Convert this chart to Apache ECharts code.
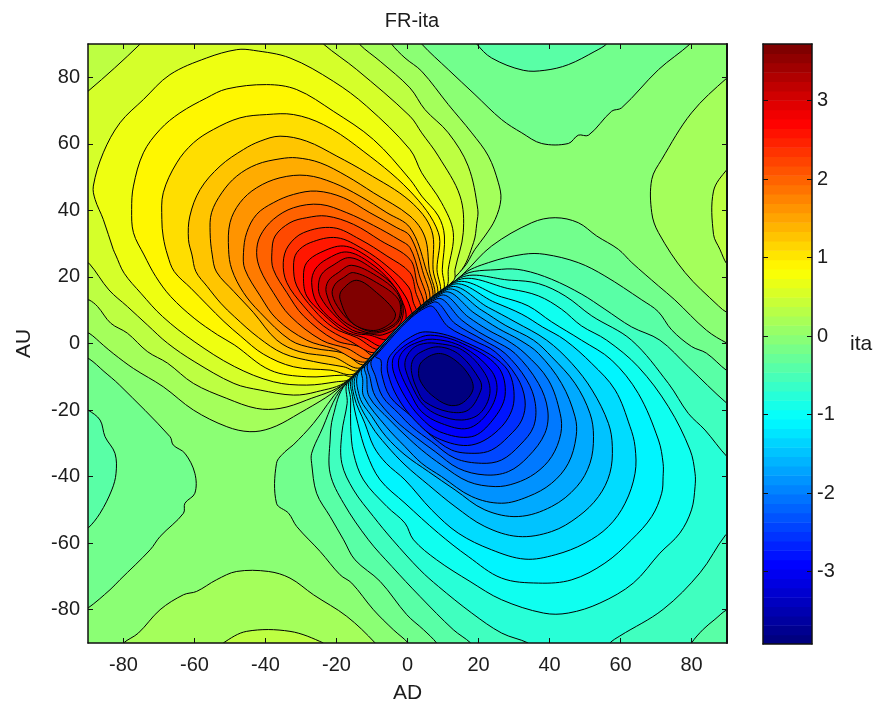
<!DOCTYPE html>
<html><head><meta charset="utf-8">
<style>html,body{margin:0;padding:0;background:#fff}#c{width:877px;height:707px}</style>
<script src="https://cdn.jsdelivr.net/npm/echarts@6/dist/echarts.min.js"></script>
</head><body><div id="c"></div>
<script>
const xTicks=[-80,-60,-40,-20,0,20,40,60,80];
const yTicks=[-80,-60,-40,-20,0,20,40,60,80];
const barTicks=[-3,-2,-1,0,1,2,3];
const valueMin=-3.92, valueMax=3.72;
const backgroundValue=-0.014;
const backgroundShape=[[-91,-91],[91,-91],[91,91],[-91,91]];
const posFill=[.172,.358,.544,.73,.916,1.102,1.288,1.474,1.66,1.846,2.032,2.218,2.404,2.59,2.776,2.962,3.148,3.334,3.52,3.72];
const negFill=[-.2,-.386,-.572,-.758,-.944,-1.13,-1.316,-1.502,-1.688,-1.874,-2.06,-2.246,-2.432,-2.618,-2.804,-2.99,-3.176,-3.362,-3.548,-3.92];

const P0=[[-91,3.1],[-91,91],[-4.5,91],[-4.5,90],[-.7,85.8],[4,81.8],[11.5,71.8],[18.1,63.3],[22.8,56.3],[25.6,48.3],[26.3,43.3],[24.7,37.3],[21.8,32.3],[19,28.3],[15.6,22.5],[-18.2,-12.4],[-32.1,-22],[-38.7,-25.5],[-44.4,-26.5],[-50.9,-25],[-60.3,-20],[-68.8,-13],[-77.2,-7.5],[-82.9,-3],[-85.7,-.5],[-89.7,3.1]];
const P1=[[-91,13.1],[-91,91],[-13.4,91],[-13.4,89.8],[-7.7,84.8],[.7,76.8],[4.9,70.3],[11.5,63.3],[17.1,53.3],[19.8,40.3],[19.5,36],[18.6,30.3],[14.6,21.3],[-17.6,-11.8],[-28.4,-17],[-35.9,-19.5],[-42.5,-19.5],[-50.9,-16.5],[-60.3,-12],[-67.6,-5.9],[-73.3,-2.4],[-78.9,3.1],[-83.6,6.1],[-87.3,11.1],[-89.7,13.1]];
const P2=[[-91,24.3],[-91,75.8],[-90,75.8],[-75.3,90],[-75.3,91],[-23.7,91],[-23.7,90],[-14.3,82.3],[.7,68.3],[4,63.3],[8.7,56.3],[14.8,44.3],[15.7,33.3],[13.4,22.3],[13,19],[-17,-11.2],[-25.6,-14.5],[-32.1,-15.5],[-41.5,-14],[-48.9,-12],[-60.1,-5.4],[-67.6,.1],[-73.3,5.6],[-78.9,11.1],[-84.1,16.1],[-89.7,24.1]];
const P3=[[-88.5,47.3],[-85.7,57.3],[-81,66.3],[-74.4,73.3],[-66.9,80.8],[-56.6,85.8],[-48.1,88.3],[-43.4,88.1],[-33.1,85.8],[-20.9,78.8],[-11.5,71.3],[.7,58.3],[4,51.3],[9.6,42.3],[12.9,33.3],[11.5,22.3],[10.8,16.8],[-16.3,-10.6],[-20,-11.5],[-28.4,-12.5],[-37.8,-11.5],[-48.8,-6.9],[-60.1,.6],[-69,8.1],[-75.1,15.1],[-79.8,21.1],[-82.2,26.6],[-82.9,28.3],[-85.7,37.3],[-88,43.3]];
const P4=[[-77.7,40.3],[-77.2,47.3],[-74.4,57.3],[-69.7,64.3],[-64.1,69.3],[-56.6,73.8],[-50.9,76.5],[-39.7,77.8],[-31.2,76.3],[-20.9,69.8],[-9.6,61.3],[.7,49.3],[4,44.3],[8.7,38.3],[10.4,32.3],[9.8,22.3],[9.8,15.5],[-15.5,-9.8],[-18,-9.5],[-28.4,-10],[-38.7,-8],[-48.8,-.4],[-53.5,2.6],[-60.1,7.6],[-66.7,14.1],[-70.9,20.1],[-74.2,26.6],[-77.2,33.3]];
const P5=[[-69.2,37.3],[-68.8,45.3],[-65,54.3],[-60.3,60.3],[-54.7,64.3],[-47.2,67.8],[-39.7,68.8],[-32.1,68.8],[-23.7,65.8],[-14.3,59.3],[.7,45.8],[8.7,33.3],[8.3,22.3],[8.8,14.5],[-14.6,-8.9],[-21.8,-8],[-32.1,-7],[-40.6,-3.2],[-47,2.2],[-51.7,6.6],[-56.4,11.6],[-61,16.6],[-65.7,21.6],[-67.6,26.6],[-68.8,32]];
const P6=[[-61.7,31.3],[-61.3,38.3],[-58.4,46.3],[-52.8,53.3],[-46.2,58.3],[-41.5,60.8],[-35.9,62.3],[-28.4,60.8],[-19.9,56.3],[-11.5,51.3],[.7,42.8],[6.8,34],[7.2,22.3],[8,13.7],[-13.7,-8],[-18,-7],[-26.5,-5.4],[-35,-3],[-42,1.8],[-48.8,8.1],[-52.6,12.1],[-56.4,17.1],[-59.6,21.6],[-60.7,26.6]];
const P7=[[-55.6,33.3],[-55.2,39.3],[-52.3,45.3],[-48.1,50.3],[-42.5,53.8],[-35.9,55.5],[-31.2,55.8],[-24.6,54.3],[-17.1,50.3],[-9.6,45.3],[.7,38.3],[4.9,32],[6.1,22.3],[7.2,13],[-12.8,-7.1],[-20.9,-4.1],[-30.3,-2.5],[-36.8,1],[-43.4,9.3],[-48.9,15.6],[-53.8,21.5],[-55,26.6]];
const P8=[[-50.4,28.3],[-50,36.3],[-47.2,42.3],[-42.5,46.8],[-35.9,49.8],[-28.4,50.5],[-20.9,48.3],[-13.4,44.3],[-5.8,39.3],[.7,34.8],[5,23],[6.6,12.3],[-11.9,-6.2],[-18,-2.9],[-26.5,-1.4],[-33,1],[-41.5,9.3],[-46.2,15.3],[-49.5,22.3]];
const P9=[[-46.2,27.3],[-45.3,33.3],[-42.5,38.8],[-37.8,42.3],[-32.1,44.8],[-25.6,45.8],[-18,43.8],[-10.6,39.3],[-3,34.8],[.7,32.3],[4.2,22],[5.8,11.6],[-11,-5.3],[-20.9,-1.5],[-28.4,1],[-36.8,7.3],[-41.5,14.3],[-45.8,22.3]];
const P10=[[-42.5,27.3],[-41.5,32.3],[-37.8,37.3],[-32.1,40.8],[-24.6,41.8],[-17.1,39.3],[-9.6,35.5],[-2.1,31],[.7,28.8],[3.2,21],[5,10.9],[-10.1,-4.4],[-17.1,-1.45],[-24.2,1],[-33.1,8.3],[-37.8,15.3],[-41.5,22.3]];
const P11=[[-38.2,27.3],[-37.3,32.3],[-33.1,36.3],[-28.4,37.8],[-22.8,38.3],[-15.2,35.8],[-7.7,31],[.7,25.3],[2.6,18.5],[4.3,10.2],[-9.2,-3.5],[-13.4,-1],[-20.4,1],[-29.3,8.3],[-34,15.3],[-37.8,22.3]];
const P12=[[-35,24.3],[-33.6,29.3],[-29.3,33.3],[-20.9,34.8],[-13.4,31.3],[-5.8,26.3],[.7,21.3],[2.3,15.5],[3.5,9.5],[-8.3,-2.6],[-16.7,1],[-23.7,5.3],[-29.3,11.3],[-34,18.3]];
const P13=[[-32.1,23.3],[-31.2,27.3],[-27.4,30.3],[-19.9,31.8],[-12.4,28.3],[-5.8,23.3],[.3,17],[1.6,12.5],[2.5,8.5],[-7.4,-1.7],[-14.3,1.8],[-20.9,4.8],[-26.5,10.3],[-31.2,17.3]];
const P14=[[-29.3,20.3],[-28.4,24.3],[-24.6,27.3],[-18,29.3],[-11.5,26.3],[-4.9,20.3],[-.5,14],[1,10],[1.5,7.5],[-6.5,-.8],[-12.4,1.8],[-18,3.8],[-23.7,8.8],[-28.4,14.3]];
const P15=[[-27,18.3],[-26,22.3],[-22.8,25.3],[-17.1,27.5],[-10.6,24.3],[-4.5,18.3],[-1.2,12],[-.4,7.5],[-2,4.6],[-5.6,1.2],[-10.6,2.5],[-15.2,3.2],[-20.9,6.8],[-25.6,12.3]];
const P16=[[-25.1,17.3],[-24.2,20.8],[-21.3,23.3],[-16.2,25.8],[-9.6,22.3],[-3.5,16.8],[-1.2,10.5],[-2.6,5.2],[-7,2.6],[-10,2.8],[-15.5,4],[-21,9],[-24.5,14]];
const P17=[[-22.9,15.3],[-22.3,18.8],[-19.5,21.3],[-15.7,23.5],[-8.7,20.3],[-3,15.3],[-1.6,9.5],[-3.5,5.4],[-9.5,3.1],[-15.5,5],[-20,8.8]];
const P18=[[-21.2,14.8],[-20.4,17.8],[-18,19.8],[-15.2,21.3],[-8.7,18.3],[-2.6,13.3],[-2.2,8.3],[-4,5.6],[-9.5,3.5],[-15,5.7],[-19,10]];
const P19=[[-19,13.3],[-18.5,16],[-14.3,19],[-8.7,15.3],[-3.5,9.3],[-4.5,6.3],[-9.6,3.9],[-15.7,6.3]];

const N1=[[16,21.2],[23.7,29.3],[35,36.3],[41.6,37.8],[48.1,36.3],[53.3,32.3],[59.4,28.3],[63.2,24.3],[70.7,17.3],[75.3,13.1],[84.2,4],[90,.1],[91,.1],[91,-91],[.2,-91],[.2,-90],[-4,-86],[-9.6,-80],[-15.7,-72],[-19,-69.5],[-24.6,-62.5],[-31.2,-55],[-33.5,-51],[-36.9,-48],[-36.9,-36],[-34.5,-32.5],[-32.2,-30.5],[-26.5,-24],[-18.5,-13]];
const N2=[[15.3,20.5],[22.8,24.3],[32.6,26.8],[38.7,26.8],[48.1,24.3],[55.6,20.3],[66,13.1],[70.6,9.6],[74.4,4.1],[80,-.9],[84.2,-2.9],[90,-8.2],[91,-8.2],[91,-91],[8.2,-91],[8.2,-90],[4.5,-86],[-.2,-81.5],[-7.7,-71.5],[-14.8,-65],[-18,-59],[-21.8,-52],[-25.6,-45],[-27,-36],[-27,-33],[-24.6,-27],[-17.9,-12.7]];
const N3=[[14.7,19.9],[26.5,22.3],[32.6,22],[40.6,19.3],[49.1,14.8],[55.6,10.3],[63.1,5],[71.1,1],[79.1,-7],[90,-18],[91,-18],[91,-80.5],[90,-80],[86.6,-82.9],[83.3,-85.9],[80,-90],[80,-91],[17.8,-91],[17.8,-90],[12.9,-86],[3.5,-76],[-4.4,-67],[-11,-59],[-18,-48],[-21.8,-39],[-21.8,-29],[-21,-22],[-17.3,-12.1]];
const N4=[[14.1,19.3],[29.3,19],[36.9,18],[44.4,14.3],[51.9,8.3],[63.1,1],[73.5,-12],[79.1,-21],[83.8,-26],[90,-34],[91,-34],[91,-57.5],[89.7,-57.4],[82.4,-68.9],[72,-79.9],[59.8,-87.9],[57,-90],[57,-91],[34,-91],[34,-90],[26.5,-87],[18.1,-81],[8.7,-73],[3.5,-68],[-4.2,-59],[-9.6,-52],[-15.2,-44],[-18.5,-36],[-18.5,-27],[-17,-18],[-16.7,-11.5]];
const N5=[[13.5,18.7],[29.3,16.3],[36.9,14.3],[43.4,10.3],[49,5.3],[56.1,1],[65,-7],[73.5,-19],[79.6,-32],[81,-39],[81,-43],[80,-50],[76.7,-57],[71.1,-63],[63.6,-72],[54.2,-78],[45.3,-81],[38.3,-81],[26.5,-77],[17.6,-71.5],[8.2,-65],[1.7,-59],[-.7,-54],[-5.8,-49],[-12.4,-41],[-15.2,-33],[-16,-25],[-16,-17],[-16.1,-10.9]];
const N6=[[12.9,18.1],[26.5,14],[34,11.3],[40.6,6.5],[49,1],[57.5,-5],[65,-15],[70.7,-29],[72,-36],[72,-40],[71.6,-45],[68.8,-52],[63.1,-59],[55.6,-66],[46.3,-71],[36.9,-72],[26.5,-70.5],[17.1,-64],[8.7,-57],[-.7,-48],[-7.7,-41],[-11.5,-33],[-14,-24],[-15.5,-16],[-15.5,-10.3]];
const N7=[[12.3,17.5],[24.7,12.3],[32.2,8.8],[38,5],[44.4,1],[51.9,-6],[58.5,-14],[62.7,-25],[64.1,-31],[64.1,-39],[61.3,-48],[56.6,-55],[50,-60],[41.6,-63.5],[33.1,-64.8],[23.7,-62],[14.3,-57],[6.8,-50],[-.7,-41],[-6,-36],[-9.5,-31],[-12,-24],[-15,-16],[-14.9,-9.7]];
const N8=[[11.6,16.8],[22.8,10.8],[30.3,6.5],[39.2,1],[46.3,-6],[52,-14],[56.6,-24],[57.7,-31],[57,-39],[53.8,-46],[48.1,-52],[40.6,-56.5],[31.2,-58],[21.8,-55],[13.4,-49],[5.9,-42.5],[-.7,-36.5],[-6,-30.5],[-10,-25],[-14.3,-16],[-14.2,-9]];
const N9=[[10.9,16.1],[20.9,10],[27.5,5.5],[35.5,1],[40.6,-4],[47.2,-12],[51.4,-21],[52.4,-28],[51.4,-36],[47.7,-43],[40.6,-49],[31.2,-52],[21.8,-50],[13.4,-44],[5.9,-38.5],[-.7,-33.5],[-6,-28],[-10,-22],[-13.5,-16],[-13.5,-8.3]];
const N10=[[10.1,15.3],[19,9],[25.6,4.5],[31.7,1],[36.9,-3],[43.4,-12],[47.2,-22],[47.5,-28],[45.3,-36],[40.6,-42],[34,-46],[26.5,-48],[18.1,-46],[9.6,-40],[4,-36],[-.7,-31],[-6,-25],[-12.3,-16],[-12.6,-11],[-12.7,-7.5]];
const N11=[[9.2,14.4],[17.1,8],[22.8,4],[28,1],[33.1,-3],[39.7,-11],[43,-21],[43.2,-27],[40.6,-34],[36,-39],[30.3,-42],[24.7,-43],[17.1,-41.5],[9.6,-36.5],[4,-32],[-.7,-27.5],[-5,-23],[-10.8,-16],[-11.5,-10],[-11.9,-6.7]];
const N12=[[8.2,13.4],[15.3,7],[20,3.5],[24.2,1],[30.3,-3],[36.9,-12],[39.5,-20],[38.7,-27],[34,-34],[28.4,-38.5],[21.8,-39.5],[14.3,-37.5],[7.8,-32.5],[2.1,-28],[-3.5,-23],[-9,-16],[-10.5,-10.5],[-11,-5.8]];
const N13=[[7.2,12.4],[13.4,6],[21.4,1],[27.5,-3],[33.6,-11],[36,-18],[35.5,-25],[31.7,-30.5],[26.5,-35],[20.9,-36],[13.4,-34.5],[6.8,-29.5],[1.2,-25],[-2.5,-21],[-7,-16],[-9,-10],[-10,-4.8]];
const N14=[[6,11.2],[11.5,5],[18.5,1],[24.7,-2.5],[30.8,-10],[33.1,-17],[32.2,-23],[28.4,-28],[23.7,-32],[19,-33],[12.4,-32],[5.9,-27],[1.2,-22],[-4.9,-16],[-7.3,-9],[-7.5,-5],[-9,-3.8]];
const N15=[[-5.5,-9],[-5.5,-5],[-4,-2.5],[-.5,1],[5,3.5],[15,1],[27.5,-7],[30,-17],[26.5,-25],[18.1,-30.5],[8.5,-28.5],[2,-23],[-2.9,-16]];
const N16=[[-3.8,-9],[-4.2,-5],[-2.8,-2.5],[1,.5],[6.5,2.5],[15.5,0],[25.5,-7],[27.5,-15.5],[24,-23],[18.1,-28],[9,-26.5],[3.5,-22],[-.7,-16]];
const N17=[[-2.1,-8.5],[-2.5,-5],[-1,-2],[2,0],[7,1.3],[15.5,-1],[23.5,-8],[25.2,-14],[22.5,-21],[17,-25.5],[9.5,-24],[4,-20.5],[.8,-15]];
const N18=[[-.5,-8],[-.6,-5],[1,-2],[3.5,-.3],[7.8,.1],[15.5,-2],[21.8,-9],[23.2,-15],[20.4,-21],[15.3,-23],[8.7,-21.5],[4.5,-18.5],[1.8,-14]];
const N19=[[1.2,-9],[1.3,-5.5],[3.1,-3],[8.7,-1],[14.8,-3.5],[20.4,-11],[20.7,-14],[17.1,-20],[11.5,-20.5],[4.9,-17.5],[2.8,-14]];
const N20=[[3.1,-9],[4,-5.5],[8.7,-3],[13.4,-5],[17.6,-10],[18.4,-14],[15.3,-18],[11.5,-18.5],[6.8,-15.5],[4,-12]];

const rightLobe0=[[91,79.8],[90,79.8],[80,69.3],[71.6,55.3],[68.8,49.3],[68.8,39.3],[70.7,33.3],[78.2,21.3],[87.6,11.3],[90,9.3],[91,9.3]];
const rightLobe1=[[91,52.3],[90,52.3],[86.2,45.8],[86.2,32.8],[88,28.3],[90,23.8],[91,23.8]];
const bottomLobe0=[[-80,-91],[-80,-90],[-75.8,-87],[-69.7,-80],[-63.1,-75.5],[-59.4,-74.5],[-53.8,-71],[-48.1,-68.5],[-39.2,-68.5],[-33.1,-70.5],[-26.5,-75.5],[-17.1,-82],[-9.1,-90],[-9.1,-91]];
const bottomLobe1=[[-51.9,-91],[-51.9,-90],[-45.3,-86.5],[-33.1,-86.5],[-23.7,-90],[-23.7,-91]];
const leftLobe1=[[-91,-4.6],[-89.7,-4.6],[-85.5,-8.4],[-81.2,-12.4],[-66.9,-28],[-66,-30.5],[-62.7,-33],[-59.9,-39],[-59.9,-45],[-62.7,-48],[-63.1,-51],[-69.7,-58],[-72.5,-62],[-81,-71],[-83.8,-74],[-90,-79.5],[-91,-79.5]];
const leftLobe2=[[-91,-20],[-90,-20],[-86.6,-23],[-85.2,-28],[-82.4,-33],[-82.1,-39],[-83.3,-44],[-86.6,-51],[-90,-55.5],[-91,-55.5]];
const topLobe1=[[4,91],[4,90],[11.5,82.3],[19,74.8],[26.5,67.3],[32.2,63.3],[37.8,60.1],[45.3,60.1],[48.1,62.6],[51,62.6],[57.5,69.8],[60.3,70.8],[70.7,82.3],[79.6,90],[79.6,91]];
const topLobe2=[[19.5,91],[19.5,90],[23.7,85.8],[32.6,82.1],[38.7,82.1],[45.3,83.8],[52.8,87.8],[56.1,90],[56.1,91]];

const positive=[P0,P1,P2,P3,P4,P5,P6,P7,P8,P9,P10,P11,P12,P13,P14,P15,P16,P17,P18,P19];
const negative=[N1,N2,N3,N4,N5,N6,N7,N8,N9,N10,N11,N12,N13,N14,N15,N16,N17,N18,N19,N20];

function clamp(v){return Math.max(0,Math.min(1,v));}
function jet(t){
  const r=clamp(Math.min(4*t-1.5,-4*t+4.5)),g=clamp(Math.min(4*t-.5,-4*t+3.5)),b=clamp(Math.min(4*t+.5,-4*t+2.5));
  return 'rgb('+Math.round(r*255)+','+Math.round(g*255)+','+Math.round(b*255)+')';
}
function colorOf(v){return jet((v-valueMin)/(valueMax-valueMin));}

const shapes=[{pts:backgroundShape,v:backgroundValue,flat:true}];
positive.forEach((pts,i)=>shapes.push({pts,v:posFill[i]}));
shapes.push({pts:rightLobe0,v:posFill[0]},{pts:rightLobe1,v:posFill[1]},{pts:bottomLobe0,v:posFill[0]},{pts:bottomLobe1,v:posFill[1]});
negative.forEach((pts,i)=>shapes.push({pts,v:negFill[i]}));
shapes.push({pts:leftLobe1,v:negFill[0]},{pts:leftLobe2,v:negFill[1]},{pts:topLobe1,v:negFill[0]},{pts:topLobe2,v:negFill[1]});

const bandCount=64;
const bands=[];
for(let i=0;i<bandCount;i++){bands.push([i]);}

const textColor='#1c1c1c', fontFamily='"Liberation Sans",Arial,sans-serif';
function axisBase(extra){
  return Object.assign({type:'value',z:10,splitLine:{show:false},
    axisLine:{show:true,onZero:false,lineStyle:{color:'#111',width:1.5}},
    axisTick:{show:false},axisLabel:{show:false}},extra);
}
function ticks(vals){return {show:true,inside:true,length:5,customValues:vals,lineStyle:{color:'#111',width:1}};}
function labels(vals,m){return {show:true,customValues:vals,color:textColor,fontSize:20,fontFamily,margin:m};}

const chart=echarts.init(document.getElementById('c'),null,{renderer:'canvas'});
chart.setOption({
  animation:false,backgroundColor:'#fff',
  title:{text:'FR-ita',left:407,top:6,textAlign:'center',textStyle:{fontSize:20,fontWeight:'normal',color:textColor,fontFamily}},
  grid:[{left:88,top:44,width:639,height:599,outerBoundsMode:'none'},{left:763,top:44,width:49,height:600,outerBoundsMode:'none'}],
  xAxis:[
    axisBase({gridIndex:0,position:'bottom',min:-90,max:90,axisTick:ticks(xTicks),axisLabel:labels(xTicks,12),
      name:'AD',nameLocation:'middle',nameGap:40,nameTextStyle:{fontSize:21,color:textColor,fontFamily}}),
    axisBase({gridIndex:0,position:'top',min:-90,max:90,axisTick:ticks(xTicks)}),
    axisBase({gridIndex:1,position:'bottom',min:0,max:1}),
    axisBase({gridIndex:1,position:'top',min:0,max:1})
  ],
  yAxis:[
    axisBase({gridIndex:0,position:'left',min:-90,max:90,axisTick:ticks(yTicks),axisLabel:labels(yTicks,8),
      name:'AU',nameLocation:'middle',nameGap:53,nameTextStyle:{fontSize:21,color:textColor,fontFamily}}),
    axisBase({gridIndex:0,position:'right',min:-90,max:90,axisTick:ticks(yTicks),axisLine:{show:true,onZero:false,lineStyle:{color:'#111',width:2}}}),
    axisBase({gridIndex:1,position:'left',min:valueMin,max:valueMax,axisTick:ticks(barTicks)}),
    axisBase({gridIndex:1,position:'right',min:valueMin,max:valueMax,axisTick:ticks(barTicks),axisLabel:labels(barTicks,5)})
  ],
  graphic:[{type:'text',left:850,top:334,style:{text:'ita',fontSize:21,fill:textColor,fontFamily}}],
  series:[
    {type:'custom',xAxisIndex:0,yAxisIndex:0,clip:true,silent:true,z:2,data:shapes.map((s,i)=>[i]),
      renderItem(params,api){
        const s=shapes[api.value(0)];
        return {type:'polygon',shape:{points:s.pts.map(p=>api.coord(p)),smooth:s.flat?0:0.35},
          style:{fill:colorOf(s.v),stroke:s.flat?null:'#000',lineWidth:1,lineJoin:'round'}};
      }},
    {type:'custom',xAxisIndex:2,yAxisIndex:2,clip:true,silent:true,z:2,data:bands,
      renderItem(params,api){
        const i=api.value(0),step=(valueMax-valueMin)/bandCount;
        const a=api.coord([0,valueMin+i*step]),b=api.coord([1,valueMin+(i+1)*step]);
        return {type:'rect',shape:{x:a[0],y:b[1],width:b[0]-a[0],height:a[1]-b[1]+.6},
          style:{fill:jet(i/(bandCount-1))}};
      }}
  ]
});
</script></body></html>
